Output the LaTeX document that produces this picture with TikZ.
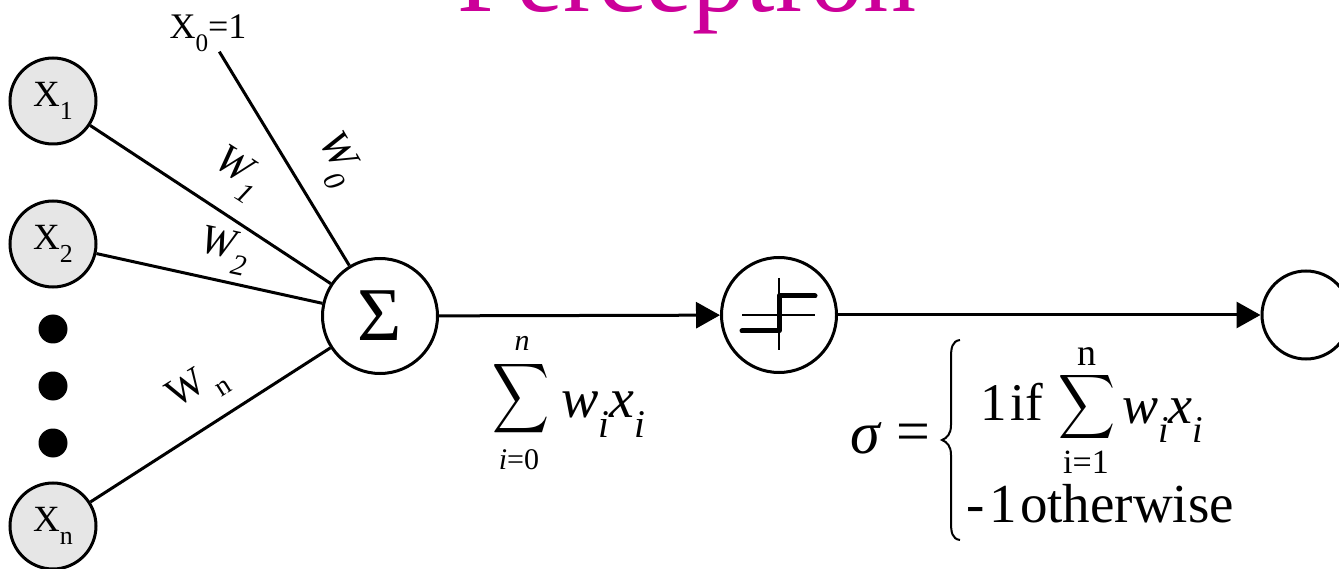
\documentclass[tikz,border=0pt]{standalone}
\usepackage{amsmath}
\usepackage{graphicx}
\usepackage{fontspec}
\setmainfont{Liberation Serif}
\usetikzlibrary{arrows.meta}
\definecolor{titlemag}{HTML}{CC0099}
\definecolor{inpfill}{HTML}{E6E6E6}
\newcommand{\sub}[2][0.7]{\raisebox{-0.36em}{\scalebox{#1}{#2}}}
\newcommand{\fsz}[1]{\fontsize{#1}{#1}\selectfont}
\newcommand{\bigsig}[2]{\resizebox*{#1}{#2}{$\displaystyle\sum$}}
\begin{document}
\begin{tikzpicture}[x=1pt,y=-1pt,
  inp/.style={circle,draw,line width=3pt,fill=inpfill,minimum size=86pt,inner sep=0pt,font=\fsz{37}},
  unit/.style={circle,draw,line width=3pt,fill=white,minimum size=115pt,inner sep=0pt},
  outunit/.style={circle,draw,line width=3pt,fill=white,minimum size=88pt,inner sep=0pt},
  bigdot/.style={circle,fill=black,minimum size=29pt,inner sep=0pt},
  conn/.style={line width=3pt},
  arr/.style={line width=3pt,-{Triangle[length=24pt,width=26pt]}},
  wlab/.style={inner sep=0pt,font=\fsz{42}\itshape},
  txt/.style={inner sep=0pt}
]
\useasboundingbox (0,0) rectangle (1339,569);
\clip (0,0) rectangle (1339,569);

% title (cut off at top)
\node[txt,anchor=base,text=titlemag,font=\fsz{106}] (title) at (687,12) {Perceptron};

% inputs
\node[inp] (x1) at (53,101) {X\sub{1}};
\node[inp] (x2) at (53,244) {X\sub{2}};
\node[inp] (xn) at (53,526) {X\sub{n}};
\node[bigdot] (d1) at (53,329) {};
\node[bigdot] (d2) at (53,386) {};
\node[bigdot] (d3) at (53,443) {};
\node[txt,font=\fsz{36}] (x0) at (208,33) {X\sub{0}=1};

% units
\node[unit] (sum) at (380,316) {\fsz{76}Σ};
\node[unit] (step) at (779,315) {};
\node[outunit] (out) at (1306,315) {};

% step function glyph
\begin{scope}[shift={(step.center)}]
  \draw[line width=1.5pt] (0,-37) -- (0,35);
  \draw[line width=1.5pt] (-37,0) -- (36,0);
  \draw[line width=5pt,line cap=round,line join=round] (-37,16) -- (0,16) -- (0,-19) -- (36,-19);
\end{scope}

% connectors
\draw[conn] (x0) -- (sum);
\draw[conn] (x1) -- (sum);
\draw[conn] (x2) -- (sum);
\draw[conn] (xn) -- (sum);
\draw[arr] (sum) -- (step);
\draw[arr] (step) -- (out);

% weight labels
\node[wlab,rotate=-60] (w0) at (336,160) {W\sub{0}};
\node[wlab,rotate=-33] (w1) at (237,174) {W\sub{1}};
\node[wlab,rotate=-12] (w2) at (224,251) {W\sub{2}};
\node[wlab,font=\fsz{40},rotate=32] (wn) at (198,388) {W\,\sub{n}};

% weighted sum formula
\node[txt] (bsum) at (521,399) {\bigsig{57pt}{78pt}};
\node[txt,font=\fsz{30}\itshape] (bsumtop) at (522,343) {n};
\node[txt,font=\fsz{30}] (bsumbot) at (519,460) {\textit{i}=0};
\node[txt,anchor=base west,font=\fsz{56}\itshape] (wx) at (561,417) {w\sub{i}x\sub{i}};

% activation formula
\node[txt,font=\fsz{60}\itshape] (sig) at (865,438) {σ};
\node[txt,font=\fsz{60}] (eq) at (913,438) {=};
\draw[line width=2pt] (960,340) .. controls (952,341) and (951,348) .. (951,358) -- (951,425)
  .. controls (951,434) and (947,438) .. (942,440) .. controls (947,442) and (951,446) .. (951,455)
  -- (951,522) .. controls (951,532) and (952,539) .. (960,540);
\node[txt,anchor=base west,font=\fsz{53}] (row1) at (980,420) {1\kern4pt if};
\node[txt] (ssum) at (1087,407) {\bigsig{57pt}{72pt}};
\node[txt,font=\fsz{38}] (ssumtop) at (1087,357) {n};
\node[txt,font=\fsz{34}] (ssumbot) at (1086,462) {i=1};
\node[txt,anchor=base west,font=\fsz{54}\itshape] (swx) at (1122,423) {w\sub{i}x\sub{i}};
\node[txt,anchor=base west,font=\fsz{55}] (row2) at (966,522) {-\kern5pt1\kern3pt otherwise};
\end{tikzpicture}
\end{document}
